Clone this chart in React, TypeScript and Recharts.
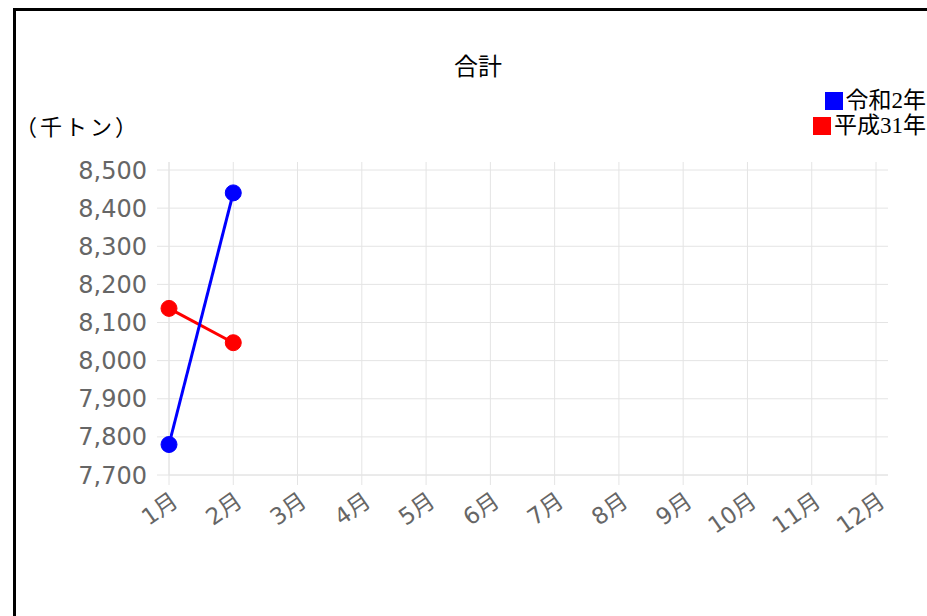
import React from 'react';
import { LineChart, Line, XAxis, YAxis, CartesianGrid } from 'recharts';

const months = ['1月', '2月', '3月', '4月', '5月', '6月', '7月', '8月', '9月', '10月', '11月', '12月'];
const reiwa2: (number | null)[] = [7780, 8440, null, null, null, null, null, null, null, null, null, null];
const heisei31: (number | null)[] = [8137, 8047, null, null, null, null, null, null, null, null, null, null];
const yTicks = [7700, 7800, 7900, 8000, 8100, 8200, 8300, 8400, 8500];
const seriesNames = ['令和2年', '平成31年'];
const seriesColors = ['#0000ff', '#ff0000'];

const data = months.map((m, i) => ({ month: m, r2: reiwa2[i], h31: heisei31[i] }));

const GRID = '#e4e4e4';
const TICK_FONT = '"DejaVu Sans", "Noto Sans CJK JP", sans-serif';
const TEXT_FONT = '"Liberation Serif", "Noto Sans CJK JP", serif';
const CJK_FONT = '"Noto Sans CJK JP", sans-serif';

const Y_MIN = 7700;
const Y_MAX = 8521;
const PLOT_TOP = 162;
const PLOT_BOTTOM = 475;
const PLOT_LEFT = 169;
const PLOT_RIGHT = 888;
const X_PAD_RIGHT = 12;

const XTick = (props: any) => {
  const { x, payload } = props;
  const ax = x + 6;
  const ay = 498;
  return (
    <text
      x={ax}
      y={ay}
      dy="0.35em"
      textAnchor="end"
      fill="#666"
      fontSize={23}
      fontFamily={TICK_FONT}
      transform={`rotate(-35 ${ax} ${ay})`}
    >
      {payload.value}
    </text>
  );
};

const hGen = () =>
  yTicks.map((t) => PLOT_BOTTOM - ((t - Y_MIN) / (Y_MAX - Y_MIN)) * (PLOT_BOTTOM - PLOT_TOP));
const vGen = () => {
  const step = (PLOT_RIGHT - X_PAD_RIGHT - PLOT_LEFT) / (months.length - 1);
  return months.map((_, i) => PLOT_LEFT + i * step);
};

export default function App() {
  return (
    <div style={{ position: 'fixed', left: 0, top: 0, width: 927, height: 616, overflow: 'hidden', background: '#fff' }}>
      <div
        style={{
          position: 'absolute',
          left: 13,
          top: 8,
          width: 1200,
          height: 900,
          borderLeft: '3px solid #000',
          borderTop: '3px solid #000',
        }}
      />
      <div
        style={{
          position: 'absolute',
          left: 0,
          width: 956,
          top: 52,
          textAlign: 'center',
          fontFamily: TEXT_FONT,
          fontSize: 24,
          color: '#000',
          lineHeight: '30px',
        }}
      >
        合計
      </div>
      <div
        style={{
          position: 'absolute',
          left: 15,
          top: 110,
          fontFamily: CJK_FONT,
          fontSize: 22,
          letterSpacing: 3,
          color: '#000',
          lineHeight: '30px',
          whiteSpace: 'nowrap',
        }}
      >
        （千トン）
      </div>
      <div style={{ position: 'absolute', right: 1, top: 88, fontFamily: TEXT_FONT, fontSize: 23, lineHeight: '25px' }}>
        {seriesNames.map((n, i) => (
          <div key={n} style={{ display: 'flex', alignItems: 'center', justifyContent: 'flex-end', whiteSpace: 'nowrap' }}>
            <span style={{ display: 'inline-block', width: 18, height: 18, background: seriesColors[i], marginRight: 3 }} />
            <span>{n}</span>
          </div>
        ))}
      </div>
      <div style={{ position: 'absolute', left: 0, top: 0 }}>
        <LineChart
          width={927}
          height={616}
          data={data}
          margin={{ left: PLOT_LEFT - 100, right: 927 - PLOT_RIGHT, top: PLOT_TOP, bottom: 616 - PLOT_BOTTOM - 60 }}
        >
          <CartesianGrid
            stroke={GRID}
            strokeWidth={1}
            horizontalCoordinatesGenerator={hGen}
            verticalCoordinatesGenerator={vGen}
          />
          <XAxis
            dataKey="month"
            padding={{ left: 0, right: X_PAD_RIGHT }}
            height={60}
            interval={0}
            tickSize={10}
            tickLine={{ stroke: GRID }}
            axisLine={{ stroke: GRID }}
            tick={<XTick />}
          />
          <YAxis
            width={100}
            domain={[Y_MIN, Y_MAX]}
            ticks={yTicks}
            allowDataOverflow
            interval={0}
            tickSize={12}
            tickMargin={10}
            tickLine={{ stroke: GRID }}
            axisLine={{ stroke: GRID }}
            tick={{ fill: '#666', fontSize: 24, fontFamily: TICK_FONT }}
            tickFormatter={(v: number) => v.toLocaleString('en-US')}
          />
          <Line
            dataKey="h31"
            stroke={seriesColors[1]}
            strokeWidth={3}
            dot={{ r: 8, fill: seriesColors[1], stroke: seriesColors[1], strokeWidth: 1 }}
            isAnimationActive={false}
          />
          <Line
            dataKey="r2"
            stroke={seriesColors[0]}
            strokeWidth={3}
            dot={{ r: 8, fill: seriesColors[0], stroke: seriesColors[0], strokeWidth: 1 }}
            isAnimationActive={false}
          />
        </LineChart>
      </div>
    </div>
  );
}
